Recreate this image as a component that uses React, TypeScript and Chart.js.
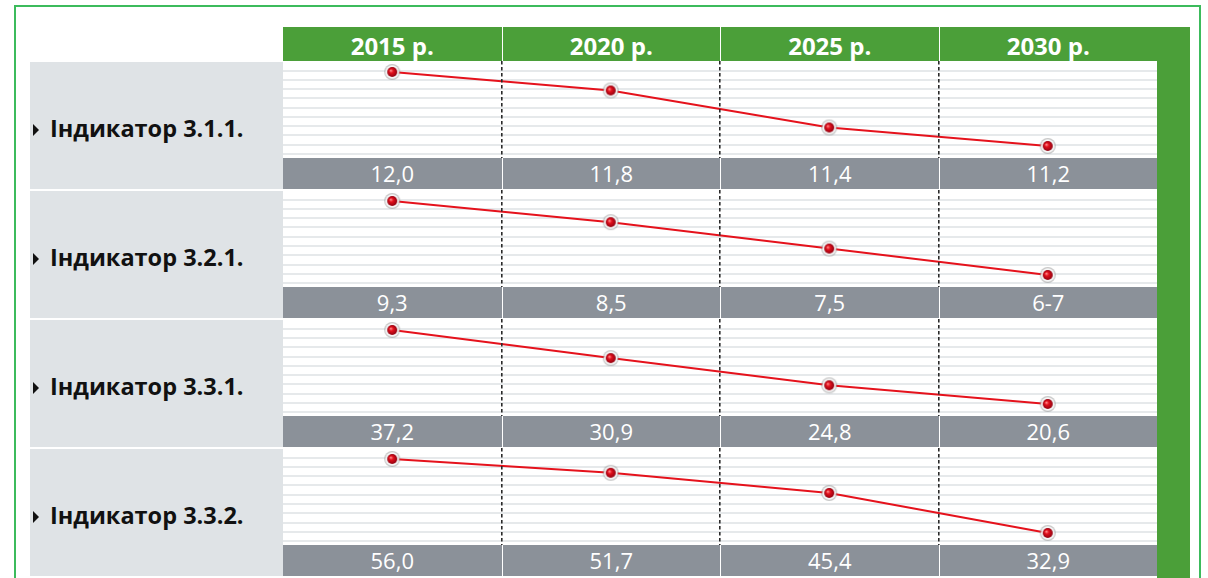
import React, { useEffect, useRef } from 'react';
import { Chart, registerables } from 'chart.js';

Chart.register(...registerables);

const years = ['2015 р.', '2020 р.', '2025 р.', '2030 р.'];
const indicators = ['Індикатор 3.1.1.', 'Індикатор 3.2.1.', 'Індикатор 3.3.1.', 'Індикатор 3.3.2.'];

const values311 = [12.0, 11.8, 11.4, 11.2];
const values321 = [9.3, 8.5, 7.5, 6.5];
const values331 = [37.2, 30.9, 24.8, 20.6];
const values332 = [56.0, 51.7, 45.4, 32.9];

const labels311 = ['12,0', '11,8', '11,4', '11,2'];
const labels321 = ['9,3', '8,5', '7,5', '6-7'];
const labels331 = ['37,2', '30,9', '24,8', '20,6'];
const labels332 = ['56,0', '51,7', '45,4', '32,9'];

const panels = [
  { name: indicators[0], values: values311, labels: labels311 },
  { name: indicators[1], values: values321, labels: labels321 },
  { name: indicators[2], values: values331, labels: labels331 },
  { name: indicators[3], values: values332, labels: labels332 },
];

const GREEN = '#4b9f39';
const GRAY_BAR = '#8b9199';
const LABEL_BG = '#dfe3e6';
const FONT = '"Open Sans", "Noto Sans", sans-serif';

const PLOT_LEFT = 283;
const PLOT_W = 874;
const COL_W = PLOT_W / 4;
const HEADER_TOP = 27;
const HEADER_H = 34;
const FIRST_TOP = 61;
const PANEL_STEP = 129;
const PLOT_H = 97;
const BAR_H = 31;

function makeMarker(): HTMLCanvasElement {
  const c = document.createElement('canvas');
  c.width = 18;
  c.height = 18;
  const g = c.getContext('2d')!;
  g.beginPath();
  g.arc(9, 9, 8, 0, Math.PI * 2);
  g.fillStyle = 'rgba(130,130,130,0.45)';
  g.fill();
  g.beginPath();
  g.arc(9, 9, 6.8, 0, Math.PI * 2);
  g.fillStyle = '#f6f6f6';
  g.fill();
  const grad = g.createRadialGradient(7.5, 7.5, 0.3, 9, 9, 5.2);
  grad.addColorStop(0, '#ff8a8a');
  grad.addColorStop(0.35, '#e3101c');
  grad.addColorStop(1, '#8c0010');
  g.beginPath();
  g.arc(9, 9, 5, 0, Math.PI * 2);
  g.fillStyle = grad;
  g.fill();
  return c;
}

function PanelChart({ values, top }: { values: number[]; top: number }) {
  const ref = useRef<HTMLCanvasElement>(null);
  useEffect(() => {
    const first = values[0];
    const last = values[values.length - 1];
    const span = first - last;
    const max = first + (span * 11) / 74;
    const min = last - (span * 12) / 74;
    const marker = makeMarker();
    const chart = new Chart(ref.current!, {
      type: 'line',
      data: {
        labels: years,
        datasets: [
          {
            data: values,
            borderColor: '#e5121c',
            borderWidth: 2,
            pointStyle: marker as any,
            pointRadius: 9,
            tension: 0,
            clip: false as any,
          },
        ],
      },
      options: {
        animation: false,
        responsive: false,
        maintainAspectRatio: false,
        layout: { padding: 0, autoPadding: false },
        plugins: { legend: { display: false }, tooltip: { enabled: false } },
        scales: {
          x: {
            type: 'category',
            offset: true,
            ticks: { display: false },
            grid: {
              offset: true,
              drawTicks: false,
              z: 1,
              lineWidth: 1.6,
              color: (c: any) => (c.type === 'tick' && c.index > 0 ? '#2a2a2a' : 'rgba(0,0,0,0)'),
            },
            border: { display: false, dash: [3.5, 2.5] },
          },
          y: {
            min,
            max,
            ticks: { display: false },
            grid: { drawTicks: false, color: '#e6e9eb', lineWidth: 2 },
            border: { display: false },
            afterBuildTicks: (scale: any) => {
              const range = scale.max - scale.min;
              const t: any[] = [];
              for (let k = 1; k <= 10; k++) {
                t.push({ value: scale.max - ((0.5 + 9.25 * k) / PLOT_H) * range });
              }
              scale.ticks = t;
            },
          },
        },
      },
    });
    return () => chart.destroy();
  }, []);
  return (
    <canvas
      ref={ref}
      width={PLOT_W}
      height={PLOT_H}
      style={{ position: 'absolute', left: PLOT_LEFT, top, width: PLOT_W, height: PLOT_H }}
    />
  );
}

export default function App() {
  return (
    <div
      style={{
        position: 'absolute',
        left: 0,
        top: 0,
        width: 1208,
        height: 578,
        overflow: 'hidden',
        background: '#ffffff',
        fontFamily: FONT,
      }}
    >
      {/* outer frame */}
      <div
        style={{
          position: 'absolute',
          left: 14,
          top: 5,
          width: 1187,
          height: 620,
          boxSizing: 'border-box',
          border: '2px solid #3cbb5c',
        }}
      />
      {/* header */}
      <div
        style={{
          position: 'absolute',
          left: PLOT_LEFT,
          top: HEADER_TOP,
          width: 1190 - PLOT_LEFT,
          height: HEADER_H,
          background: GREEN,
        }}
      />
      {years.map((y, i) => (
        <div
          key={y}
          style={{
            position: 'absolute',
            left: PLOT_LEFT + i * COL_W,
            top: HEADER_TOP,
            width: COL_W,
            height: HEADER_H,
            boxSizing: 'border-box',
            borderLeft: i > 0 ? '1.5px solid #ffffff' : 'none',
            color: '#ffffff',
            fontWeight: 700,
            fontSize: 24,
            lineHeight: '31px',
            paddingTop: 3,
            textAlign: 'center',
            whiteSpace: 'nowrap',
          }}
        >
          {y}
        </div>
      ))}
      {/* right green bar */}
      <div
        style={{
          position: 'absolute',
          left: PLOT_LEFT + PLOT_W,
          top: HEADER_TOP,
          width: 1190 - PLOT_LEFT - PLOT_W,
          height: 578 - HEADER_TOP,
          background: GREEN,
        }}
      />
      {panels.map((p, i) => {
        const top = FIRST_TOP + i * PANEL_STEP;
        return (
          <React.Fragment key={p.name}>
            <div
              style={{
                position: 'absolute',
                left: 30,
                top: top + 1,
                width: PLOT_LEFT - 30,
                height: PANEL_STEP - 2,
                background: LABEL_BG,
              }}
            />
            <div
              style={{
                position: 'absolute',
                left: 33,
                top: top + 63,
                width: 0,
                height: 0,
                borderTop: '6px solid transparent',
                borderBottom: '6px solid transparent',
                borderLeft: '6.5px solid #111111',
              }}
            />
            <div
              style={{
                position: 'absolute',
                left: 50,
                top: top + 51.5,
                fontSize: 23.5,
                fontWeight: 700,
                lineHeight: '30px',
                color: '#111111',
                whiteSpace: 'nowrap',
              }}
            >
              {p.name}
            </div>
            <PanelChart values={p.values} top={top} />
            {p.labels.map((l, j) => (
              <div
                key={j}
                style={{
                  position: 'absolute',
                  left: PLOT_LEFT + j * COL_W,
                  top: top + PLOT_H,
                  width: COL_W,
                  height: BAR_H,
                  boxSizing: 'border-box',
                  background: GRAY_BAR,
                  borderLeft: j > 0 ? '1.5px solid #ffffff' : 'none',
                  color: '#ffffff',
                  fontSize: 22,
                  lineHeight: '31px',
                  textAlign: 'center',
                }}
              >
                {l}
              </div>
            ))}
          </React.Fragment>
        );
      })}
    </div>
  );
}
